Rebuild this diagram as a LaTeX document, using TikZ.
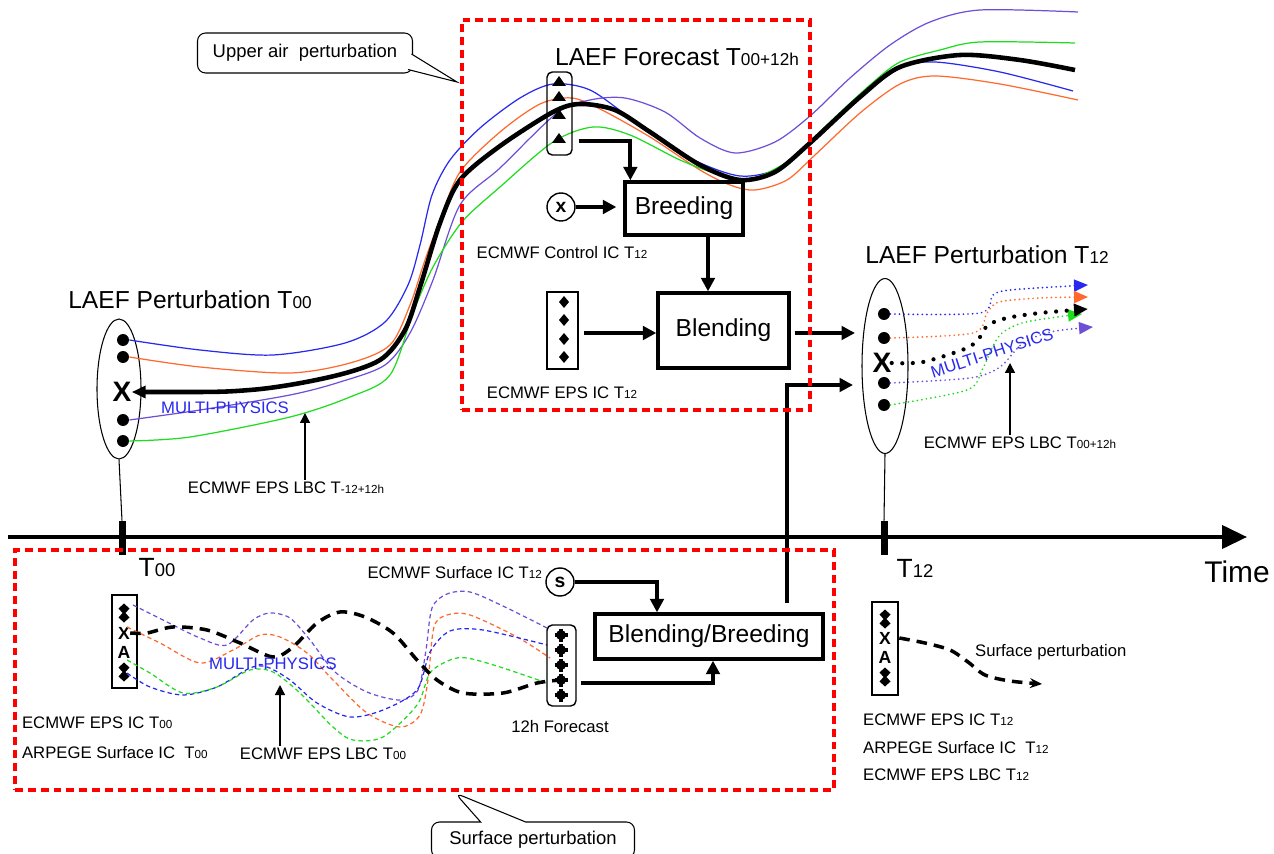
\documentclass[tikz,border=0pt]{standalone}
\usepackage{fontspec}
\setmainfont{Liberation Sans}
\usetikzlibrary{arrows.meta,shapes.geometric,shapes.callouts,calc}
\makeatletter
\newcommand\tsub[1]{{\fontsize{\fpeval{0.7*\f@size}}{0pt}\selectfont #1}}
\makeatother
\definecolor{ensblue}{RGB}{40,40,240}
\definecolor{ensorange}{RGB}{255,105,45}
\definecolor{enspurple}{RGB}{110,80,215}
\definecolor{ensgreen}{RGB}{30,220,30}
\tikzset{
  title/.style    = {font=\fontsize{14}{16}\selectfont, inner sep=1pt},
  note/.style     = {font=\fontsize{9.5}{11}\selectfont, inner sep=1pt},
  physics/.style  = {note, text=ensblue},
  procbox/.style  = {draw, line width=1.9pt, font=\fontsize{14}{16}\selectfont},
  member/.style   = {draw, ellipse, line width=0.6pt, inner sep=0},
  mdot/.style     = {circle, fill, minimum size=0.24cm, inner sep=0},
  bigx/.style     = {font=\bfseries\fontsize{16}{16}\selectfont, inner sep=0},
  smallx/.style   = {font=\bfseries\fontsize{10}{10}\selectfont, inner sep=0},
  tickmark/.style = {fill, minimum width=0.14cm, minimum height=0.68cm, inner sep=0},
  colbox/.style   = {draw, line width=1.5pt, inner sep=0},
  srcnode/.style  = {circle, draw, line width=0.8pt, minimum size=0.56cm, inner sep=0,
                     font=\bfseries\fontsize{11}{11}\selectfont},
  redbox/.style   = {draw=red, line width=2pt, dash pattern=on 4.5pt off 2.8pt, inner sep=0},
  callbox/.style  = {draw, line width=0.6pt, rounded corners=0.16cm,
                     font=\fontsize{10.5}{12}\selectfont, inner sep=0},
  flow/.style     = {line width=2.2pt, -{Triangle[length=0.27cm,width=0.27cm]}},
  lbcarrow/.style = {line width=0.8pt, -{Triangle[length=0.2cm,width=0.2cm]}},
  member line/.style = {line width=0.7pt},
  mainline/.style = {line width=2.6pt},
  dotline/.style  = {line width=1.1pt, line cap=round, dash pattern=on 0pt off 2.6pt,
                     -{Triangle[length=0.28cm,width=0.24cm]}},
  sfcline/.style  = {line width=0.7pt, dash pattern=on 2.5pt off 1.8pt},
  sfcmain/.style  = {line width=2pt, dash pattern=on 6pt off 4pt},
  uptri/.pic = {\fill (-7,4) -- (7,4) -- (0,-6) -- cycle;},
  dmark/.pic = {\fill (0,-6) -- (5,0) -- (0,6) -- (-5,0) -- cycle;},
  ddia/.pic  = {\fill (0,-9.5) -- (5.5,-4.5) -- (1.5,0) -- (5.5,4.5) -- (0,9.5) -- (-5.5,4.5)
                -- (-1.5,0) -- (-5.5,-4.5) -- cycle;},
  fblob/.pic = {\fill (0,0) circle[radius=0.1cm];
                \draw[line width=1.8pt] (-6.5,0) -- (6.5,0) (0,-6.5) -- (0,6.5);}
}

\begin{document}
\begin{tikzpicture}[x=0.02cm, y=-0.02cm]
    \useasboundingbox (0,0) rectangle (1274,854);

    % ensemble members at T00 and T12
    \node[member, minimum width=0.88cm, minimum height=2.8cm] (ens0) at (119,389) {};
    \node[mdot] (a1) at (123,340) {};
    \node[mdot] (a2) at (123,357) {};
    \node[bigx] (ax) at (122,392) {X};
    \node[mdot] (a4) at (123,420) {};
    \node[mdot] (a5) at (123,441) {};
    \node[title] (ttl0) at (190,300) {LAEF Perturbation T\tsub{00}};

    \node[member, minimum width=0.92cm, minimum height=3.5cm] (ens12) at (885,366) {};
    \node[mdot] (b1) at (884,314) {};
    \node[mdot] (b2) at (884,338) {};
    \node[bigx] (bx) at (882,363) {X};
    \node[mdot] (b4) at (884,383) {};
    \node[mdot] (b5) at (884,405) {};
    \node[title] (ttl12) at (987,255) {LAEF Perturbation T\tsub{12}};

    % upper air forecast curves
    \draw[member line, ensblue] plot[smooth] coordinates {(a1.east) (200,350) (273,355) (345,343) (385,322)
      (408,285) (420,245) (432,195) (450,160) (480,128) (520,98) (553,84) (590,90) (633,120) (690,158)
      (740,176) (780,168) (815,140) (860,98) (900,68) (935,62) (1000,72) (1073,91)};
    \draw[member line, ensorange] plot[smooth] coordinates {(a2.east) (200,367) (290,373) (350,363) (390,345)
      (410,305) (425,260) (440,220) (460,172) (500,132) (540,104) (572,98) (602,110) (650,137) (700,170)
      (730,185) (755,190) (787,180) (815,155) (860,113) (900,84) (935,76) (1000,84) (1078,100)};
    \draw[member line, enspurple] plot[smooth] coordinates {(a4.east) (200,410) (290,395) (340,382) (385,365)
      (410,333) (433,280) (460,205) (500,168) (557,113) (590,100) (625,98) (665,112) (700,138) (735,153)
      (775,142) (810,116) (850,78) (890,45) (930,22) (980,10) (1078,12)};
    \draw[member line, ensgreen] plot[smooth] coordinates {(a5.east) (190,437) (290,417) (350,397) (390,375)
      (413,313) (433,267) (462,222) (500,187) (553,142) (593,127) (630,135) (680,160) (720,175) (748,180)
      (790,160) (830,122) (870,85) (900,62) (940,50) (980,42) (1075,43)};
    \draw[mainline, {Triangle[length=0.28cm,width=0.24cm]}-] plot[smooth] coordinates {(ax.east) (250,390)
      (330,377) (380,360) (405,330) (420,287) (440,223) (460,180) (500,146) (553,112) (580,104) (615,110)
      (650,132) (700,165) (740,180) (775,172) (810,143) (860,97) (900,67) (960,55) (1020,60) (1075,70)};

    % dotted forecasts after T12
    \draw[dotline, ensblue] plot[smooth] coordinates {(b1.east) (980,313) (993,295) (1010,290) (1070,286) (1088,285)};
    \draw[dotline, ensorange] plot[smooth] coordinates {(b2.east) (973,333) (987,313) (999,302) (1040,298) (1088,297)};
    \draw[dotline, enspurple] plot[smooth] coordinates {(b4.east) (970,378) (1000,367) (1022,344) (1050,332) (1093,327)};
    \draw[dotline, ensgreen] plot[smooth] coordinates {(b5.east) (967,390) (982,370) (992,348) (1002,333) (1022,323) (1057,317) (1082,314)};
    \draw[line width=2.4pt, line cap=round, dash pattern=on 0pt off 6pt, -{Triangle[length=0.28cm,width=0.24cm]}]
      plot[smooth] coordinates {(bx.east) (923,362) (967,348) (980,337) (988,325) (1007,318) (1040,313) (1088,309)};
    \node[physics, rotate=18] (mp12) at (992,353) {MULTI-PHYSICS};
    \node[note] (lbc12) at (1020,443) {ECMWF EPS LBC T\tsub{00+12h}};
    \coordinate (lbc12tip) at (1010,363);
    \draw[lbcarrow] (lbc12tip |- lbc12.north) -- (lbc12tip);

    \node[physics] (mp0) at (225,408) {MULTI-PHYSICS};
    \node[note] (lbc0) at (286,488) {ECMWF EPS LBC T\tsub{-12+12h}};
    \coordinate (lbc0tip) at (305,413);
    \draw[lbcarrow] (lbc0tip |- lbc0.north) -- (lbc0tip);

    % time axis
    \coordinate (t0) at (8,537);
    \coordinate (tend) at (1247,537);
    \draw[line width=2.3pt, -{Triangle[length=0.5cm,width=0.46cm]}] (t0) -- (tend);
    \node[tickmark] (tk0) at (122,538) {};
    \node[tickmark] (tk12) at (884,538) {};
    \draw[line width=0.6pt] (ens0.south) -- (tk0.north);
    \draw[line width=0.6pt] (ens12.south) -- (tk12.north);
    \node[font=\fontsize{15}{16}\selectfont, inner sep=0] (lt0) at (157,568) {T\tsub{00}};
    \node[font=\fontsize{15}{16}\selectfont, inner sep=0] (lt12) at (915,568) {T\tsub{12}};
    \node[font=\fontsize{17}{18}\selectfont, inner sep=0] (ltime) at (1237,572) {Time};

    % upper air perturbation: breeding and blending
    \node[title] (ttlfc) at (677,57) {LAEF Forecast T\tsub{00+12h}};
    \node[colbox, line width=0.8pt, rounded corners=3pt, minimum width=0.5cm, minimum height=1.66cm] (trbox) at (559.5,113.5) {};
    \foreach \ty in {82,97,115,139}
      \pic at (559,\ty) {uptri};
    \coordinate (tr4) at (559,140);
    \node[procbox, minimum width=2.36cm, minimum height=1.06cm] (breed) at (684,208.5) {Breeding};
    \node[srcnode] (cx) at (561,207) {x};
    \node[note] (ctrl) at (562,253) {ECMWF Control IC T\tsub{12}};
    \node[procbox, minimum width=2.62cm, minimum height=1.5cm] (blend) at (723.5,330.5) {Blending};
    \node[colbox, minimum width=0.62cm, minimum height=1.54cm] (dmbox) at (562.5,330.5) {};
    \foreach \ty in {302,320,339,357}
      \pic at (564,\ty) {dmark};
    \node[note] (epsic) at (562,393) {ECMWF EPS IC T\tsub{12}};

    \draw[flow] ($(trbox.east |- tr4)+(6,1)$) -| ($(breed.north west)+(7,0)$);
    \draw[flow, shorten >=0.14cm] (cx.east) -- (cx.east -| breed.west);
    \draw[flow] ($(breed.south)+(24,0)$) -- ($(blend.north)+(-15.5,0)$);
    \draw[flow] ($(dmbox.east)+(5,2.5)$) -- ($(blend.west)+(0,2.5)$);
    \coordinate (in1) at (855,333);
    \coordinate (in2) at (853,385);
    \draw[flow, shorten <=0.08cm] (blend.east |- in1) -- (in1);

    % surface perturbation
    \node[colbox, minimum width=0.5cm, minimum height=1.86cm] (xa0) at (124.5,641.5) {};
    \pic at (124,613) {ddia};
    \node[smallx] (ux) at (124,633) {X};
    \node[smallx] (ua) at (124,652) {A};
    \pic at (124,672) {ddia};
    \node[note, anchor=west] (sic0) at (20,723) {ECMWF EPS IC T\tsub{00}};
    \node[note, anchor=west] (arp0) at (20,753) {ARPEGE Surface IC~ T\tsub{00}};
    \node[note] (slbc0) at (323,754) {ECMWF EPS LBC T\tsub{00}};

    \draw[sfcline, enspurple] plot[smooth] coordinates {(133,605) (167,622) (200,638) (227,645) (253,620)
      (270,613) (290,618) (310,640) (335,672) (367,692) (400,700) (418,690) (426,650) (432,608) (447,594)
      (470,592) (505,607) (547,628)};
    \draw[sfcline, ensorange] plot[smooth] coordinates {(127,627) (160,643) (200,663) (233,650) (260,635)
      (280,637) (307,653) (333,680) (367,713) (400,727) (420,715) (428,680) (434,627) (447,615) (470,615)
      (517,637) (550,658)};
    \draw[sfcline, ensblue] plot[smooth] coordinates {(127,673) (150,687) (183,695) (217,687) (250,668)
      (267,667) (290,680) (317,703) (350,717) (383,710) (417,690) (430,652) (450,631) (483,630) (547,645)};
    \draw[sfcline, ensgreen] plot[smooth] coordinates {(127,660) (150,673) (183,693) (217,687) (250,670)
      (273,672) (300,693) (333,727) (353,740) (383,737) (417,705) (430,673) (450,660) (467,658) (500,667)
      (547,683)};
    \draw[sfcmain] plot[smooth] coordinates {(ux.east) (147,633) (173,627) (207,630) (240,643) (273,657)
      (293,647) (317,623) (340,612) (365,617) (393,633) (417,660) (437,680) (463,693) (503,693) (537,683)
      (561,680)};
    \node[physics] (mp00) at (273,664) {MULTI-PHYSICS};
    \coordinate (slbc0tip) at (280,685);
    \draw[lbcarrow] (slbc0tip |- slbc0.north) -- (slbc0tip);

    \node[colbox, line width=0.8pt, rounded corners=3pt, minimum width=0.58cm, minimum height=1.62cm] (fcbox) at (561.5,665.5) {};
    \foreach \ty in {635,650,665,680,695}
      \pic at (561,\ty) {fblob};
    \coordinate (fc4) at (561,680);
    \node[note] (fc12) at (560,727) {12h Forecast};
    \node[srcnode] (cs) at (560,582) {s};
    \node[note, anchor=east] (ssic) at (544,573) {ECMWF Surface IC T\tsub{12}};
    \node[procbox, minimum width=4.56cm, minimum height=0.9cm] (bb) at (709,636.5) {Blending/Breeding};

    \draw[flow] (cs.east) -| ($(bb.north)+(-52,0)$);
    \draw[flow] ($(fcbox.east |- fc4)+(4,3)$) -| ($(bb.south)+(4,0)$);
    \draw[flow] ($(bb.north)+(78,-9)$) |- (in2);

    \node[colbox, minimum width=0.52cm, minimum height=1.86cm] (xa12) at (885,648.5) {};
    \pic at (885,619) {ddia};
    \node[smallx] (rx) at (885,638) {X};
    \node[smallx] (ra) at (885,657) {A};
    \pic at (885,677) {ddia};
    \draw[sfcmain, -{Stealth[length=0.24cm,width=0.2cm]}] plot[smooth] coordinates {(xa12.east |- rx)
      (925,643) (950,650) (968,662) (985,675) (1010,681) (1042,684)};
    \node[note, anchor=west] (sp12) at (973,652) {Surface perturbation};
    \node[note, anchor=west] (sic12) at (861,720) {ECMWF EPS IC T\tsub{12}};
    \node[note, anchor=west] (arp12) at (861,748) {ARPEGE Surface IC~ T\tsub{12}};
    \node[note, anchor=west] (slbc12) at (861,775) {ECMWF EPS LBC T\tsub{12}};

    % dashed frames and callouts
    \node[redbox, minimum width=6.96cm, minimum height=7.8cm] (upbox) at (636,215) {};
    \node[redbox, minimum width=16.38cm, minimum height=4.8cm] (sfcbox) at (424.5,670) {};
    \node[callbox, minimum width=4.3cm, minimum height=0.8cm] (cupper) at (305,53) {Upper air~ perturbation};
    \coordinate (cuptip) at (457,82);
    \filldraw[line width=0.6pt, fill=white] ($(cupper.east)+(-1.5,1)$) -- (cuptip) -- ($(cupper.south east)+(-5,-4)$);
    \node[callbox, rectangle callout, minimum width=4.06cm, minimum height=0.72cm, callout pointer width=0.9cm,
          callout absolute pointer={(455,793)}] (csfc) at (533,840) {Surface perturbation};
\end{tikzpicture}
\end{document}
